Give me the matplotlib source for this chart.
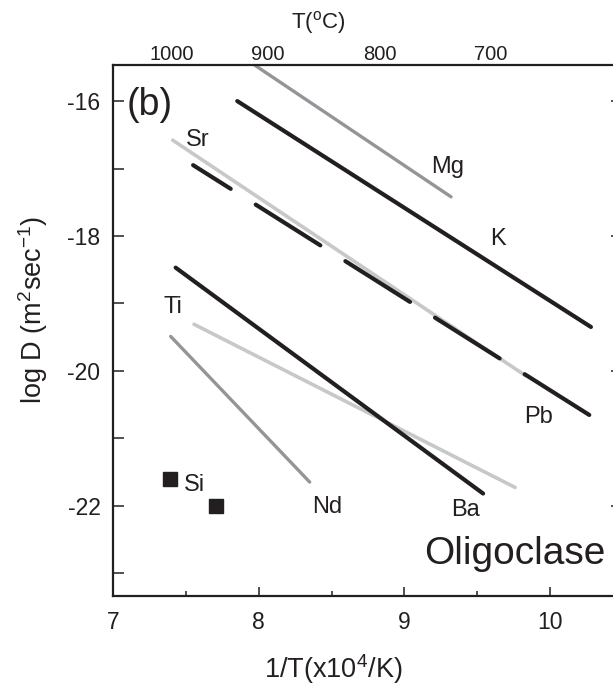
import matplotlib
matplotlib.use("Agg")
import matplotlib.pyplot as plt
from matplotlib.ticker import FixedLocator, FixedFormatter, MultipleLocator

plt.rcParams["font.family"] = ["Liberation Sans", "DejaVu Sans"]
plt.rcParams["mathtext.fontset"] = "custom"
plt.rcParams["mathtext.rm"] = "Liberation Sans"
plt.rcParams["axes.unicode_minus"] = False
plt.rcParams["lines.scale_dashes"] = False

INK = "#231f20"
MID_GREY = "#939598"
LIGHT_GREY = "#c7c8ca"

# Arrhenius segments for oligoclase: end points in 1/T (x10^4/K) and log D
mg_x, mg_y = [7.975, 9.32], [-15.47, -17.42]
k_x, k_y = [7.853, 10.28], [-16.00, -19.35]
sr_x, sr_y = [7.41, 9.83], [-16.58, -20.07]
pb_x, pb_y = [7.55, 10.28], [-16.95, -20.67]
ba_x, ba_y = [7.43, 9.54], [-18.47, -21.82]
ti_x, ti_y = [7.556, 9.76], [-19.31, -21.73]
nd_x, nd_y = [7.396, 8.35], [-19.49, -21.65]

# Si single-temperature points
si_x = [7.39, 7.705]
si_y = [-21.61, -22.01]

# element labels (text, x, y)
labels = [
    ("Mg", 9.30, -16.98),
    ("K", 9.64, -18.05),
    ("Sr", 7.58, -16.58),
    ("Pb", 9.92, -20.68),
    ("Ti", 7.41, -19.06),
    ("Ba", 9.42, -22.06),
    ("Nd", 8.47, -22.02),
    ("Si", 7.556, -21.70),
]

# temperature scale along the top
top_pos = [7.40, 8.06, 8.83, 9.59]
top_labels = ["1000", "900", "800", "700"]

y_ticks = [-23, -22, -21, -20, -19, -18, -17, -16]
y_labels = ["", "-22", "", "-20", "", "-18", "", "-16"]
x_ticks = [7, 8, 9, 10]
x_labels = ["7", "8", "9", "10"]

fig = plt.figure(figsize=(6.13, 6.90), dpi=100)
ax = fig.add_axes([0.1843, 0.1362, 0.8201, 0.7691])

round_kw = dict(solid_capstyle="round", dash_capstyle="round")
ax.plot(mg_x, mg_y, color=MID_GREY, lw=2.4, **round_kw)
ax.plot(k_x, k_y, color=INK, lw=3.0, **round_kw)
ax.plot(sr_x, sr_y, color=LIGHT_GREY, lw=2.6, **round_kw)
ax.plot(pb_x, pb_y, color=INK, lw=3.0, linestyle=(23, (55, 21.3)), **round_kw)
ax.plot(ti_x, ti_y, color=LIGHT_GREY, lw=2.6, **round_kw)
ax.plot(ba_x, ba_y, color=INK, lw=3.0, **round_kw)
ax.plot(nd_x, nd_y, color=MID_GREY, lw=2.4, **round_kw)
ax.plot(si_x, si_y, linestyle="none", marker="s", markersize=10.5,
        color=INK, markeredgecolor=INK)

for text, x, y in labels:
    ax.text(x, y, text, fontsize=17, color=INK, ha="center", va="center")

ax.text(7.254, -16.06, "(b)", fontsize=27, color=INK, ha="center", va="center")
ax.text(9.76, -22.71, "Oligoclase", fontsize=28, color=INK,
        ha="center", va="center")

ax.set_xlim(7, 10.45)
ax.set_ylim(-23.34, -15.47)

ax.xaxis.set_major_locator(FixedLocator(x_ticks))
ax.xaxis.set_major_formatter(FixedFormatter(x_labels))
ax.xaxis.set_minor_locator(MultipleLocator(0.5))
ax.yaxis.set_major_locator(FixedLocator(y_ticks))
ax.yaxis.set_major_formatter(FixedFormatter(y_labels))

ax.tick_params(axis="x", which="major", direction="in", length=6.5, width=1.1,
               labelsize=16.5, pad=11, colors=INK, top=False)
ax.tick_params(axis="x", which="minor", direction="in", length=3.6, width=1.1,
               colors=INK, top=False)
ax.tick_params(axis="y", which="major", direction="in", length=8, width=1.1,
               labelsize=16.5, pad=9, colors=INK, right=False)

for side in ("left", "bottom", "top"):
    ax.spines[side].set_linewidth(1.6)
    ax.spines[side].set_color(INK)
ax.spines["right"].set_visible(False)

top = ax.secondary_xaxis("top")
top.set_ticks(top_pos, labels=top_labels)
top.tick_params(length=0, pad=1, labelsize=14.5, colors=INK)
top.spines["top"].set_visible(False)

right = ax.secondary_yaxis("right")
right.set_ticks([-22, -20, -18, -16], labels=["", "", "", ""])
right.tick_params(direction="in", length=3.5, width=1.1, colors=INK)
right.spines["right"].set_linewidth(1.6)
right.spines["right"].set_color(INK)

ax.set_xlabel(r"1/T(x10$^\mathregular{4}$/K)", fontsize=19.5, color=INK)
ax.xaxis.set_label_coords(0.438, -0.105)
ax.set_ylabel(r"log D (m$^\mathregular{2}$sec$^\mathregular{-1}$)",
              fontsize=19.5, color=INK)
ax.yaxis.set_label_coords(-0.125, 0.539)

fig.text(318 / 613, 1 - 23 / 690, r"T($^\mathregular{o}$C)", fontsize=16,
         color=INK, ha="center", va="center")

fig.savefig("out.png", dpi=100)
